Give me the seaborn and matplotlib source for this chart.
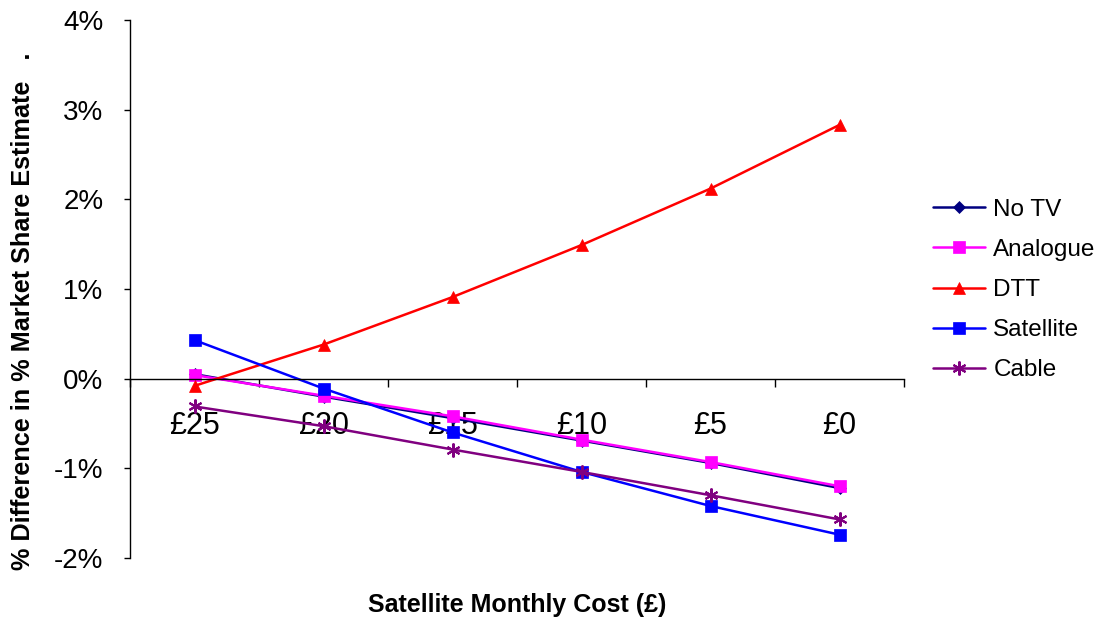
import matplotlib
matplotlib.use("Agg")
import matplotlib.pyplot as plt
import seaborn as sns
import pandas as pd
from matplotlib.ticker import FuncFormatter, FixedLocator

# Monthly satellite price points
costs = ["£25", "£20", "£15", "£10", "£5", "£0"]

# Change in estimated market share (percentage points)
no_tv = [0.05, -0.20, -0.44, -0.69, -0.94, -1.22]
analogue = [0.04, -0.19, -0.42, -0.68, -0.93, -1.20]
dtt = [-0.08, 0.38, 0.91, 1.49, 2.12, 2.83]
satellite = [0.43, -0.11, -0.60, -1.04, -1.42, -1.74]
cable = [-0.31, -0.53, -0.79, -1.04, -1.30, -1.57]

series_names = ["No TV", "Analogue", "DTT", "Satellite", "Cable"]
series_values = [no_tv, analogue, dtt, satellite, cable]

palette = {"No TV": "#000080", "Analogue": "#FF00FF", "DTT": "#FF0000",
           "Satellite": "#0000FF", "Cable": "#800080"}
markers = {"No TV": "D", "Analogue": "s", "DTT": "^",
           "Satellite": "s", "Cable": (6, 2, 0)}
sizes = {"No TV": 6, "Analogue": 8, "DTT": 9, "Satellite": 8, "Cable": 10}

sns.set_theme(style="white")
plt.rcParams["font.family"] = ["Liberation Sans", "DejaVu Sans"]
plt.rcParams["text.color"] = "black"
plt.rcParams["xtick.color"] = "black"
plt.rcParams["ytick.color"] = "black"

fig = plt.figure(figsize=(11.12, 6.19), dpi=100)
ax = fig.add_axes([130 / 1112, 1 - 558 / 619, 774 / 1112, 538 / 619])

handles = []
for name, vals in zip(series_names, series_values):
    d = pd.DataFrame({"cost": costs, "value": vals})
    col = palette[name]
    sns.lineplot(data=d, x="cost", y="value", sort=False, color=col,
                 marker=markers[name], markersize=sizes[name],
                 markeredgecolor=col, markerfacecolor=col,
                 markeredgewidth=1.5 if name == "Cable" else 0.5,
                 linewidth=1.8, ax=ax, label=name)
    handles.append(ax.lines[-1])
ax.get_legend().remove()

ax.set_xlim(-0.5, len(costs) - 0.5)
ax.set_ylim(-2, 4)

# y axis
ax.set_yticks([-2, -1, 0, 1, 2, 3, 4])
ax.yaxis.set_major_formatter(FuncFormatter(lambda v, p: f"{v:.0f}%"))
ax.tick_params(axis="y", which="major", direction="out", length=4, width=1,
               color="black", left=True, labelsize=20, pad=15)

# category axis sitting at zero
ax.spines["bottom"].set_position(("data", 0))
ax.spines["top"].set_visible(False)
ax.spines["right"].set_visible(False)
for s in ("left", "bottom"):
    ax.spines[s].set_color("black")
    ax.spines[s].set_linewidth(1)
ax.set_xticks(range(len(costs)))
ax.set_xticklabels(costs)
ax.xaxis.set_minor_locator(FixedLocator([i - 0.5 for i in range(len(costs) + 1)]))
ax.tick_params(axis="x", which="major", length=0, labelsize=22, pad=23)
ax.tick_params(axis="x", which="minor", direction="out", length=6, width=1,
               color="black", bottom=True)
ax.set_xlabel("")
ax.set_ylabel("")
ax.grid(False)

fig.text(517 / 1112, 1 - 605 / 619, "Satellite Monthly Cost (£)",
         ha="center", va="center", fontsize=18, fontweight="bold")
fig.text(23 / 1112, 1 - 311 / 619, "% Difference in % Market Share Estimate   .",
         ha="center", va="center", rotation=90, fontsize=18.2, fontweight="bold")

fig.legend(handles, series_names, loc="center left",
           bbox_to_anchor=(933 / 1112, 1 - 290 / 619), frameon=False,
           borderpad=0, borderaxespad=0,
           fontsize=17.5, handlelength=2.15, handletextpad=0.33,
           labelspacing=0.75, markerscale=1.0)

fig.savefig("out.png", dpi=100, facecolor="white")
